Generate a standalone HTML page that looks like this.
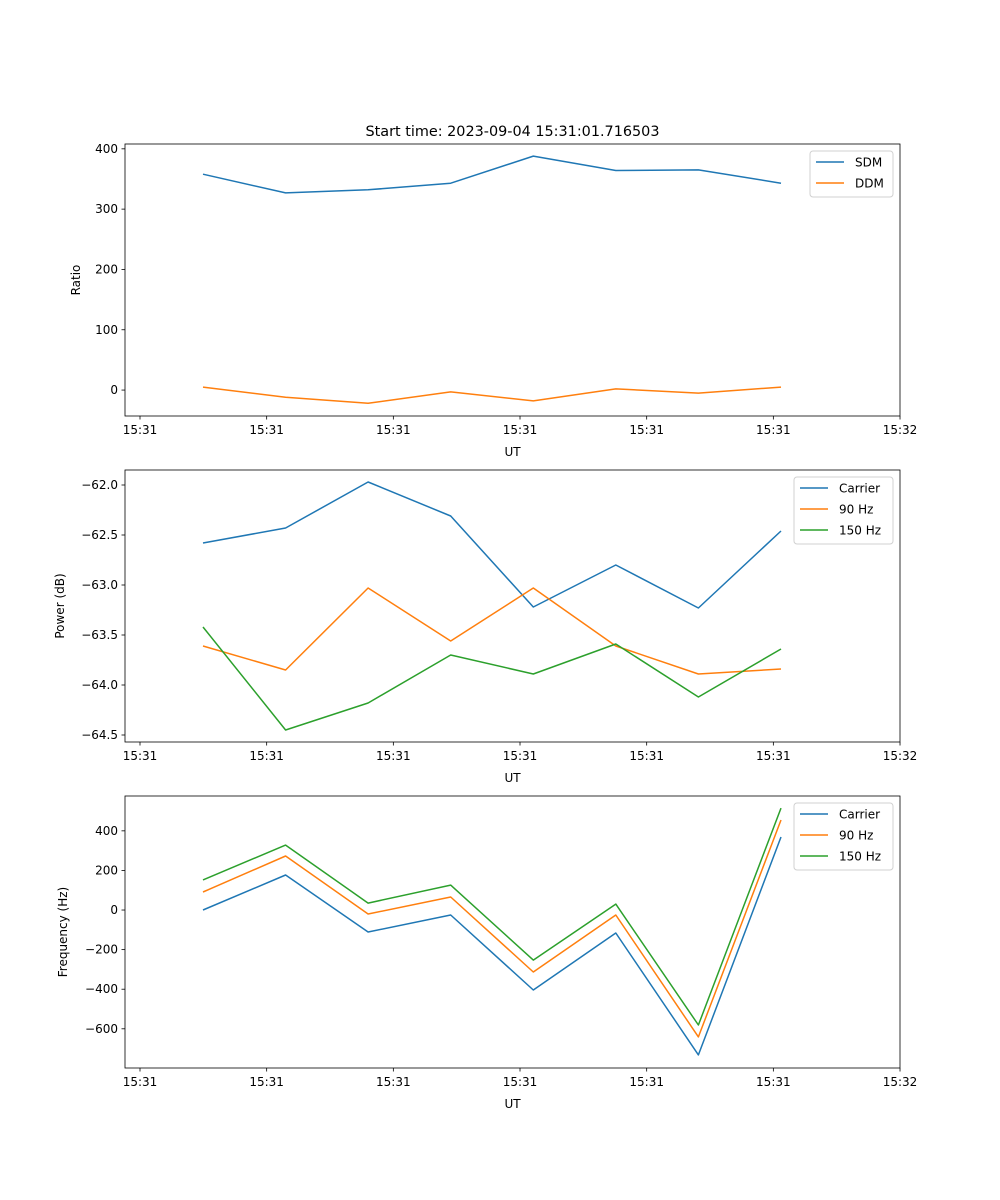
<!DOCTYPE html>
<html><head><meta charset="utf-8"><style>
html,body{margin:0;padding:0;background:#fff;}
svg{display:block;font-family:"DejaVu Sans","Liberation Sans",sans-serif;}
</style></head><body>
<svg id="fig" width="1000" height="1200" viewBox="0 0 1000 1200" xmlns="http://www.w3.org/2000/svg"></svg>
<script>
const xTickLabels = ["15:31","15:31","15:31","15:31","15:31","15:31","15:32"];
const sdm = [358, 327, 332, 343, 388, 364, 365, 343];
const ddm = [5, -12, -22, -3, -18, 2, -5, 5];
const pwrCarrier = [-62.58, -62.43, -61.97, -62.31, -63.22, -62.80, -63.23, -62.46];
const pwr90 = [-63.61, -63.85, -63.03, -63.56, -63.03, -63.61, -63.89, -63.84];
const pwr150 = [-63.42, -64.45, -64.18, -63.70, -63.89, -63.59, -64.12, -63.64];
const frqCarrier = [0, 177, -111, -25, -404, -116, -732, 369];
const frq90 = [91, 273, -20, 66, -313, -25, -641, 455];
const frq150 = [152, 328, 35, 126, -253, 30, -581, 515];
const ticks1 = [0, 100, 200, 300, 400];
const ticks2 = [-64.5, -64.0, -63.5, -63.0, -62.5, -62.0];
const tickLabels2 = ["\u221264.5","\u221264.0","\u221263.5","\u221263.0","\u221262.5","\u221262.0"];
const ticks3 = [-600, -400, -200, 0, 200, 400];

const C = {blue:"#1f77b4", orange:"#ff7f0e", green:"#2ca02c"};
const svg = document.getElementById('fig');
const NS = "http://www.w3.org/2000/svg";
function mk(tag, attrs, parent){const e=document.createElementNS(NS,tag);for(const k in attrs)e.setAttribute(k,attrs[k]);(parent||svg).appendChild(e);return e;}
function fmt(v){return v<0?"\u2212"+Math.abs(v):String(v);}

const L=125,R=900;
const xIdx = i => 203 + i*82.57;
const xTickPx = i => 140 + i*126.67;

function panel(name, top, bottom, ymin, ymax, ticks, tickLabels, ylabel, series, legend){
  const g = mk('g',{});
  
  
  const y = v => bottom - (v - ymin)/(ymax - ymin)*(bottom - top);
  // series
  series.forEach(s=>{
    const d = s.vals.map((v,i)=>(i?'L':'M')+xIdx(i).toFixed(1)+','+y(v).toFixed(1)).join(' ');
    const p = mk('path',{d:d,fill:'none',stroke:s.color,'stroke-width':1.5,'stroke-linejoin':'round'},g);
    
    
  });
  // frame
  const fr = mk('rect',{x:L,y:top,width:R-L,height:bottom-top,fill:'none',stroke:'#000','stroke-width':0.8},g);
  
  
  // y ticks
  ticks.forEach((t,i)=>{
    const yy=y(t);
    mk('line',{x1:L-3.5,x2:L,y1:yy,y2:yy,stroke:'#000','stroke-width':0.8},g);
    const tx = mk('text',{x:L-7,y:yy+4,'text-anchor':'end','font-size':12},g);
    tx.textContent = tickLabels ? tickLabels[i] : fmt(t);
    
    
  });
  // x ticks
  xTickLabels.forEach((lab,i)=>{
    const xx=xTickPx(i);
    mk('line',{x1:xx,x2:xx,y1:bottom,y2:bottom+3.5,stroke:'#000','stroke-width':0.8},g);
    const tx = mk('text',{x:xx,y:bottom+18,'text-anchor':'middle','font-size':12},g);
    tx.textContent = lab;
    
    
  });
  const xl = mk('text',{x:(L+R)/2,y:bottom+40,'text-anchor':'middle','font-size':12},g);
  xl.textContent='UT';
  
  
  const yl = mk('text',{x:0,y:0,'text-anchor':'middle','font-size':12,transform:`translate(${legend.ylx},${(top+bottom)/2}) rotate(-90)`},g);
  yl.textContent=ylabel;
  
  
  // legend
  const lg = mk('g',{},g);
  
  
  mk('rect',{x:legend.x,y:top+7,width:legend.w,height:series.length*21+4,rx:3,fill:'#fff',stroke:'#d0d0d0','stroke-width':1,'fill-opacity':0.8},lg);
  series.forEach((s,i)=>{
    const ry = top+18+i*21;
    const e = mk('g',{},lg);
    
    
    mk('line',{x1:legend.x+6,x2:legend.x+34,y1:ry,y2:ry,stroke:s.color,'stroke-width':1.5},e);
    const t = mk('text',{x:legend.x+45,y:ry+4.5,'font-size':12},e);
    t.textContent = s.label;
  });
}

const title = mk('text',{x:512.5,y:136,'text-anchor':'middle','font-size':14.4});
title.textContent='Start time: 2023-09-04 15:31:01.716503';



panel('ratio-panel',144,416,-43,408,ticks1,null,'Ratio',
  [{name:'sdm-line',label:'SDM',vals:sdm,color:C.blue},{name:'ddm-line',label:'DDM',vals:ddm,color:C.orange}],
  {x:810,w:83,ylx:80});
panel('power-panel',470,742,-64.57,-61.85,ticks2,tickLabels2,'Power (dB)',
  [{name:'power-carrier-line',label:'Carrier',vals:pwrCarrier,color:C.blue},
   {name:'power-90hz-line',label:'90 Hz',vals:pwr90,color:C.orange},
   {name:'power-150hz-line',label:'150 Hz',vals:pwr150,color:C.green}],
  {x:794,w:99,ylx:64});
panel('frequency-panel',796,1068,-798,576,ticks3,null,'Frequency (Hz)',
  [{name:'freq-carrier-line',label:'Carrier',vals:frqCarrier,color:C.blue},
   {name:'freq-90hz-line',label:'90 Hz',vals:frq90,color:C.orange},
   {name:'freq-150hz-line',label:'150 Hz',vals:frq150,color:C.green}],
  {x:794,w:99,ylx:67});
</script>
</body></html>
